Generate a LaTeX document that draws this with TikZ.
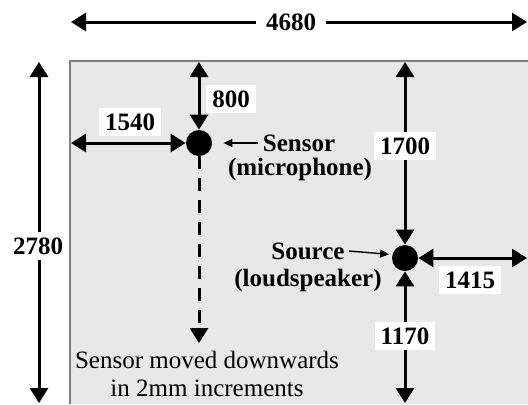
\documentclass[tikz,border=0pt]{standalone}
\usepackage{fontspec}
\setmainfont{Liberation Serif}
\usetikzlibrary{arrows.meta}

\begin{document}
\begin{tikzpicture}[x=0.5pt,y=-0.5pt,
  dim/.style={line width=1.5pt,{Triangle[length=7.5pt,width=9pt]}-{Triangle[length=7.5pt,width=9pt]}},
  pointer/.style={line width=0.7pt,-{Triangle[length=4.5pt,width=4pt]}},
  lab/.style={fill=white,inner xsep=3pt,inner ysep=3pt,font=\fontsize{12.5}{14}\selectfont\bfseries},
  txt/.style={inner sep=0pt,font=\fontsize{12.5}{14}\selectfont\bfseries},
  dot/.style={circle,fill=black,inner sep=0pt,minimum size=13pt}]

\useasboundingbox (0,0) rectangle (528,404);

% room
\fill[black!9] (70,61) rectangle (528,404);
\draw[black!50,line width=0.6pt] (528,61) -- (70,61) -- (70,404);

\coordinate (topL) at (71,22);
\coordinate (topR) at (527,22);
\coordinate (leftT) at (39,62);
\coordinate (leftB) at (39,403);
\coordinate (wallL) at (71,143);
\coordinate (wallT) at (199,62);
\coordinate (wallT2) at (405,62);
\coordinate (wallR) at (527,258);
\coordinate (floor) at (405,403);
\coordinate (moveend) at (199,343);

\node[dot] (sensor) at (199,143) {};
\node[dot] (source) at (405,258) {};

% overall size
\draw[dim] (topL) -- (topR);
\node[lab,inner xsep=5pt] (width) at (291,22) {4680};
\draw[dim] (leftT) -- (leftB);
\node[lab] (height) at (38,246) {2780};

% sensor position
\draw[dim] (wallT) -- (sensor.north);
\node[lab] (sensT) at (231,99) {800};
\draw[dim] (wallL) -- (sensor.west);
\node[lab] (sensL) at (130,122) {1540};

% source position
\draw[dim] (wallT2) -- (source.north);
\node[lab] (srcT) at (405,146) {1700};
\draw[dim] (source.south) -- (floor);
\node[lab] (srcB) at (405,336) {1170};
\draw[dim] (source.east) -- (wallR);
\node[lab] (srcR) at (470,280) {1415};

% labels
\node[txt] (senstxt) at (299,143) {Sensor};
\node[txt] (mictxt) at (300,169) {(microphone)};
\draw[pointer,shorten >=5.5pt] ([xshift=-2pt]senstxt.west) -- (sensor.east);
\node[txt] (srctxt) at (308,251) {Source};
\node[txt] (loudtxt) at (308,280) {(loudspeaker)};
\draw[pointer,shorten >=1.5pt] ([xshift=2pt]srctxt.east) -- (source.165);

% movement
\draw[line width=1.5pt,dash pattern=on 6.5pt off 4.5pt,-{Triangle[length=7.5pt,width=9pt]}] (sensor.south) -- (moveend);
\node[align=center,inner sep=0pt,font=\fontsize{12.5}{14}\selectfont] (move) at (207,374) {Sensor moved downwards\\in 2mm increments};

\end{tikzpicture}
\end{document}
